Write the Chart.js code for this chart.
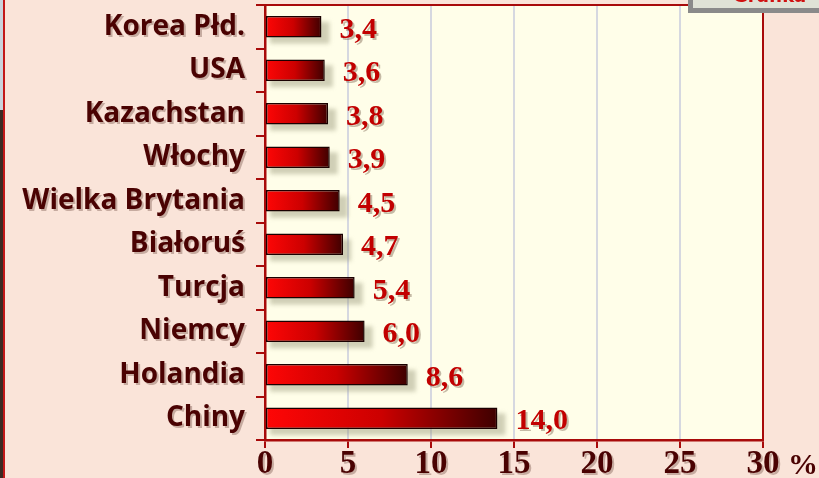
<!DOCTYPE html>
<html>
<head>
<meta charset="utf-8">
<script src="https://cdn.jsdelivr.net/npm/chart.js@4/dist/chart.umd.min.js"></script>
<style>
  html, body { margin: 0; padding: 0; background: #fae4d9; }
  #wrap { width: 819px; height: 478px; position: relative; }
</style>
</head>
<body>
<div id="wrap"><canvas id="chart" width="819" height="478"></canvas></div>
<script>
// Countries and their share in %
const countries = ['Korea Płd.', 'USA', 'Kazachstan', 'Włochy', 'Wielka Brytania',
    'Białoruś', 'Turcja', 'Niemcy', 'Holandia', 'Chiny'];
const shares = [3.4, 3.6, 3.8, 3.9, 4.5, 4.7, 5.4, 6.0, 8.6, 14.0];
const axisTicks = [0, 5, 10, 15, 20, 25, 30];
const axisUnit = '%';

const darkRed = '#a80a0a';
const maroon = '#4a0202';

// Red-to-dark gradient along each bar
function barGradient(context) {
    const chart = context.chart;
    if (!chart.chartArea) return '#d00000';
    const x = chart.scales.x;
    const x0 = x.getPixelForValue(0);
    const x1 = x.getPixelForValue(context.raw);
    const g = chart.ctx.createLinearGradient(x0, 0, x1, 0);
    g.addColorStop(0, '#ff0606');
    g.addColorStop(0.5, '#cc0000');
    g.addColorStop(1, '#3e0000');
    return g;
}

// Backgrounds, frame and decorations around the plot
const backdrop = {
    id: 'backdrop',
    beforeDraw(chart) {
        const { ctx, chartArea: a } = chart;
        ctx.save();
        ctx.fillStyle = '#fae4d9';
        ctx.fillRect(0, 0, chart.width, chart.height);
        ctx.fillStyle = '#fffee9';
        ctx.fillRect(a.left, a.top, a.right - a.left, a.bottom - a.top);
        // left page edge
        ctx.fillStyle = '#3b2a22';
        ctx.fillRect(0, 0, 3, chart.height);
        ctx.fillStyle = '#c9d3dc';
        ctx.fillRect(0, 0, 3, 110);
        ctx.fillStyle = '#c21818';
        ctx.fillRect(3, 0, 2, chart.height);
        ctx.restore();
    },
    beforeDatasetsDraw(chart) {
        // soft drop shadow under the bars
        const ctx = chart.ctx;
        ctx.save();
        ctx.fillStyle = 'rgba(150, 150, 120, 0.45)';
        ctx.filter = 'blur(2px)';
        chart.getDatasetMeta(0).data.forEach(bar => {
            const h = bar.height;
            ctx.fillRect(bar.base + 4, bar.y - h / 2 + 6, bar.x - bar.base + 4, h);
        });
        ctx.restore();
    },
    afterDraw(chart) {
        const { ctx, chartArea: a } = chart;
        const x = chart.scales.x;
        const y = chart.scales.y;
        ctx.save();
        // frame
        ctx.strokeStyle = darkRed;
        ctx.lineWidth = 2;
        ctx.beginPath();
        ctx.moveTo(a.left, a.top);
        ctx.lineTo(a.right, a.top);
        ctx.lineTo(a.right, a.bottom);
        ctx.stroke();

        // value labels
        ctx.font = 'bold 30px "Liberation Serif", "DejaVu Serif", serif';
        ctx.textBaseline = 'middle';
        ctx.textAlign = 'left';
        chart.getDatasetMeta(0).data.forEach((bar, i) => {
            const txt = shares[i].toFixed(1).replace('.', ',');
            ctx.fillStyle = 'rgba(90, 60, 40, 0.35)';
            ctx.fillText(txt, bar.x + 20, bar.y + 5);
            ctx.fillStyle = '#c20000';
            ctx.fillText(txt, bar.x + 18, bar.y + 3);
        });

        // category labels
        ctx.font = 'bold 28px "Open Sans", Lato, sans-serif';
        ctx.textAlign = 'right';
        countries.forEach((name, i) => {
            const py = y.getPixelForValue(i);
            ctx.fillStyle = 'rgba(80, 40, 30, 0.3)';
            ctx.fillText(name, 247, py + 2);
            ctx.fillStyle = maroon;
            ctx.fillText(name, 245, py);
        });

        // x tick labels
        ctx.font = 'bold 33px "Liberation Serif", "DejaVu Serif", serif';
        ctx.textAlign = 'center';
        axisTicks.forEach(v => {
            const px = x.getPixelForValue(v);
            ctx.fillStyle = 'rgba(80, 40, 30, 0.3)';
            ctx.fillText(String(v), px + 2, 466);
            ctx.fillStyle = maroon;
            ctx.fillText(String(v), px, 464);
        });
        ctx.textAlign = 'left';
        ctx.font = 'bold 30px "Liberation Serif", "DejaVu Serif", serif';
        ctx.fillStyle = maroon;
        ctx.fillText(axisUnit, 788, 466);

        // small panel cut off at the top right
        ctx.fillStyle = '#8a8a8a';
        ctx.fillRect(688, 0, 131, 13);
        ctx.fillStyle = '#dfe2d6';
        ctx.fillRect(693, 0, 126, 8);
        ctx.beginPath();
        ctx.rect(693, 0, 126, 8);
        ctx.clip();
        ctx.fillStyle = '#d01010';
        ctx.font = 'bold 18px "DejaVu Sans", sans-serif';
        ctx.textAlign = 'left';
        ctx.textBaseline = 'alphabetic';
        ctx.fillText('Grafika', 733, 2);
        ctx.restore();
    }
};

new Chart(document.getElementById('chart'), {
    type: 'bar',
    data: {
        labels: countries,
        datasets: [{
            data: shares,
            backgroundColor: barGradient,
            borderColor: '#1a0000',
            borderWidth: 1.5,
            borderSkipped: false,
            categoryPercentage: 0.96,
            barPercentage: 0.52
        }]
    },
    options: {
        indexAxis: 'y',
        responsive: false,
        animation: false,
        layout: { padding: { top: 5, right: 56, left: 0, bottom: 0 } },
        plugins: { legend: { display: false }, tooltip: { enabled: false } },
        scales: {
            x: {
                min: 0,
                max: 30,
                afterBuildTicks(scale) {
                    scale.ticks = axisTicks.map(v => ({ value: v }));
                },
                afterFit(scale) { scale.height = 38; },
                grid: {
                    color: ctx => (ctx.tick && (ctx.tick.value === 0 || ctx.tick.value === 30)) ? 'rgba(0,0,0,0)' : '#d6d8e0',
                    lineWidth: 2,
                    tickColor: darkRed,
                    tickLength: 8
                },
                border: { color: darkRed, width: 2.5 },
                ticks: { display: false }
            },
            y: {
                afterFit(scale) { scale.width = 265; },
                grid: {
                    drawOnChartArea: false,
                    tickColor: darkRed,
                    tickLength: 9,
                    lineWidth: 2
                },
                border: { color: darkRed, width: 2.5 },
                ticks: { display: false }
            }
        }
    },
    plugins: [backdrop]
});
</script>
</body>
</html>
